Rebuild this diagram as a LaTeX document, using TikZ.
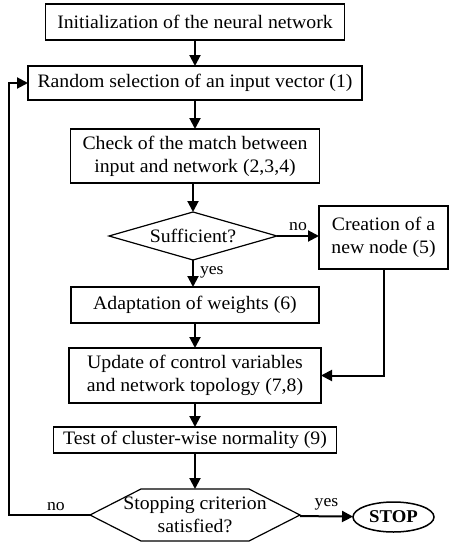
\documentclass[tikz,border=0pt]{standalone}
\usepackage{fontspec}
\setmainfont{Liberation Serif}[FakeStretch=1.04]
\usetikzlibrary{arrows.meta,calc,shapes.geometric}
\begin{document}
\begin{tikzpicture}[x=1pt,y=-1pt,
  box/.style={draw,line width=1.2pt,inner sep=0pt,outer sep=0pt,align=center,
    font=\fontsize{19}{23}\selectfont},
  arr/.style={line width=2pt,-{Triangle[length=11pt,width=11pt]}},
  lab/.style={font=\fontsize{17}{18}\selectfont,inner sep=0pt}]
\fill[white] (0,0) rectangle (451,544);
\useasboundingbox (0,0) rectangle (451,544);
\node[box,minimum width=299pt,minimum height=36pt] (b1) at (195,22) {Initialization of the neural network};
\node[box,minimum width=334pt,minimum height=34pt] (b2) at (195,83) {Random selection of an input vector (1)};
\node[box,minimum width=249pt,minimum height=54pt] (b3) at (195,156) {Check of the match between\\input and network (2,3,4)};
\node[box,draw=none,minimum width=168pt,minimum height=48pt] (d) at (193,236) {Sufficient?};
\draw[line width=1.2pt] (d.west) -- (d.north) -- (d.east) -- (d.south) -- cycle;
\node[box,minimum width=129pt,minimum height=63pt] (c) at (383.5,237.5) {Creation of a\\new node (5)};
\node[box,minimum width=248pt,minimum height=36pt] (a) at (195,305) {Adaptation of weights (6)};
\node[box,minimum width=252pt,minimum height=55pt] (u) at (195,375.5) {Update of control variables\\and network topology (7,8)};
\node[box,minimum width=283pt,minimum height=26pt] (t) at (195,440) {Test of cluster-wise normality (9)};
\node[box,draw=none,minimum width=210pt,minimum height=52pt] (h) at (195,515) {Stopping criterion\\satisfied?};
\draw[line width=1.2pt] (h.west) -- ($(h.north west)+(51,0)$) -- ($(h.north east)+(-51,0)$) -- (h.east)
  -- ($(h.south east)+(-51,0)$) -- ($(h.south west)+(51,0)$) -- cycle;
\node[draw,ellipse,line width=1.5pt,inner sep=0pt,outer sep=0pt,minimum width=81pt,minimum height=30pt,
  font=\fontsize{18}{20}\selectfont\bfseries] (s) at (393.5,517) {STOP};
\coordinate (cr) at (383.5,375.5);
\coordinate (fl) at (9,515);
\draw[arr] (b1) -- (b2);
\draw[arr] (b2) -- (b3);
\draw[arr] (b3.south -| d.north) -- (d.north);
\draw[arr] (d.east) -- (d.east -| c.west) node[lab,midway,above=4pt] {no};
\draw[arr] (d.south) -- (d.south |- a.north) node[lab,pos=0.45,right=6pt] {yes};
\draw[arr] (a) -- (u);
\draw[arr] (u) -- (t);
\draw[arr] (t) -- (h);
\draw[arr] (h) -- (s) node[lab,midway,above=5pt] {yes};
\draw[arr] (c.south) -- (cr) -- (u.east);
\draw[arr] (h.west) -- (fl) -- (fl |- b2.west) -- (b2.west);
\node[lab] (no2) at (56,507) {no};
\end{tikzpicture}
\end{document}
